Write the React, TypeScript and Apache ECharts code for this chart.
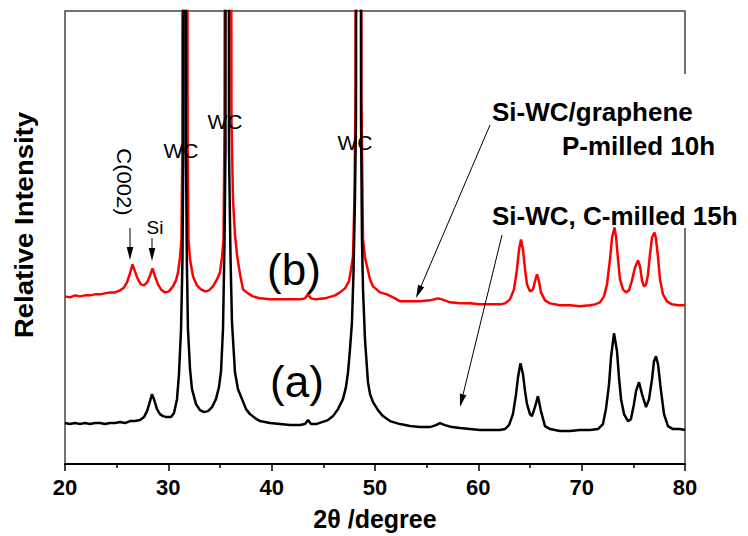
import React, { useEffect, useRef } from "react";
import * as echarts from "echarts";

// 2θ (degree) and relative intensity (a.u.)
const blackTheta = [20.0,20.48,20.97,21.45,21.94,22.42,22.9,23.39,23.87,24.35,24.84,25.32,25.81,26.29,26.77,27.26,27.65,27.94,28.23,28.42,28.61,28.9,29.19,29.48,29.87,30.26,30.55,30.84,31.03,31.23,31.37,31.45,31.56,31.71,31.79,31.9,32.1,32.29,32.68,33.06,33.45,33.84,34.23,34.61,34.9,35.1,35.29,35.44,35.53,35.68,35.87,36.02,36.16,36.45,36.74,37.13,37.52,37.9,38.39,38.87,39.84,40.81,41.77,42.74,43.23,43.52,43.81,44.29,44.87,45.45,45.94,46.42,46.9,47.19,47.39,47.58,47.77,47.92,48.06,48.16,48.4,48.65,48.74,48.84,49.03,49.32,49.52,49.81,50.29,50.77,51.45,52.42,53.39,54.35,55.32,55.9,56.29,56.77,57.45,58.23,59.19,60.16,61.13,62.1,62.58,62.97,63.35,63.65,63.84,64.08,64.32,64.52,64.71,65.0,65.19,65.48,65.77,66.06,66.45,66.94,67.9,68.87,69.84,70.81,71.58,72.06,72.35,72.65,72.84,73.13,73.42,73.61,73.81,74.1,74.48,74.77,75.06,75.26,75.55,75.84,76.23,76.52,76.81,77.0,77.19,77.39,77.68,77.97,78.35,78.84,79.52,80.0];
const blackIntensity = [41,40,41,40,41,40,41,41,40,41,41,42,41,43,43,44,47,53,63,70,65,55,50,48,47,47,51,65,90,135,205,315,3000,315,205,135,95,75,60,54,52,53,57,65,77,93,135,225,315,3000,315,205,142,92,75,65,55,50,46,43,41,40,39,39,40,44,40,40,42,44,48,55,65,77,92,115,142,192,265,345,3000,345,225,175,125,82,70,62,54,48,43,40,38,37,37,39,41,39,37,36,35,34,34,34,35,39,50,70,87,101,90,73,60,50,48,57,68,53,38,35,33,33,34,34,35,40,55,80,107,131,113,87,65,50,43,45,60,73,82,70,57,65,85,103,108,100,73,50,38,35,35,34];

const redTheta = [20.0,20.48,20.97,21.45,21.94,22.42,22.9,23.39,23.87,24.35,24.84,25.32,25.71,26.0,26.29,26.53,26.77,27.06,27.35,27.65,27.94,28.23,28.47,28.71,29.0,29.29,29.68,30.06,30.45,30.74,30.94,31.13,31.27,31.35,31.61,31.87,31.95,32.1,32.39,32.77,33.16,33.55,33.94,34.32,34.71,35.0,35.19,35.34,35.44,35.77,36.11,36.26,36.45,36.64,36.94,37.23,37.71,38.19,38.87,39.84,40.81,41.77,42.74,43.23,43.52,43.81,44.29,45.16,46.13,46.61,47.1,47.48,47.68,47.87,48.01,48.11,48.4,48.69,48.84,49.03,49.23,49.52,49.81,50.48,51.16,51.94,52.42,53.39,54.35,55.32,56.1,56.48,57.26,58.23,59.19,60.16,61.13,62.1,62.58,63.06,63.45,63.74,63.94,64.13,64.32,64.52,64.71,65.0,65.29,65.48,65.68,65.87,66.06,66.45,66.94,67.9,68.87,69.84,70.81,71.29,71.77,72.16,72.45,72.74,72.94,73.18,73.32,73.52,73.71,74.0,74.29,74.58,74.87,75.16,75.45,75.65,75.84,76.03,76.23,76.42,76.61,76.81,77.05,77.19,77.39,77.58,77.87,78.26,78.74,79.32,80.0];
const redIntensity = [168,167,169,168,169,169,170,170,171,172,172,174,177,182,191,200,193,185,180,179,182,189,196,188,180,175,172,173,178,184,192,207,225,315,3000,315,225,205,188,179,175,173,174,178,185,192,207,225,345,3000,345,265,230,210,190,175,171,168,166,165,165,165,165,166,170,166,165,166,169,172,176,183,195,208,265,365,3000,365,225,207,198,185,178,172,170,166,163,163,163,164,166,165,162,161,161,160,160,160,161,165,175,195,215,225,215,195,180,173,175,183,190,183,172,164,161,159,159,158,159,160,162,168,180,205,227,237,228,205,185,175,172,174,184,197,204,198,184,178,180,190,210,227,232,226,207,185,170,163,160,159,159];

const xTicks = [20, 30, 40, 50, 60, 70, 80];
const seriesNames = ["Si-WC/graphene P-milled 10h (b)", "Si-WC, C-milled 15h (a)"];

const FONT = "'Liberation Sans', Arial, Helvetica, sans-serif";

function pairs(xs: number[], ys: number[]) {
  return xs.map((x, i) => [x, ys[i]]);
}

function txt(text: string, x: number, y: number, size: number, opts: any = {}) {
  const align = opts.align || "center";
  return {
    type: "text",
    x,
    y,
    rotation: opts.rotation || 0,
    scaleX: opts.scaleX || 1,
    scaleY: opts.scaleY || 1,
    z: 120,
    style: {
      text,
      fontSize: size,
      fontWeight: opts.bold ? "bold" : "normal",
      fontFamily: FONT,
      fill: "#000",
      align,
      verticalAlign: "middle",
      textAlign: align,
      textVerticalAlign: "middle",
    },
  };
}

function arrow(x1: number, y1: number, x2: number, y2: number, head = 13, half = 3.3) {
  const dx = x2 - x1;
  const dy = y2 - y1;
  const len = Math.sqrt(dx * dx + dy * dy);
  const ux = dx / len;
  const uy = dy / len;
  const bx = x2 - head * ux;
  const by = y2 - head * uy;
  const nx = -uy;
  const ny = ux;
  return [
    { type: "line", z: 110, shape: { x1, y1, x2: bx, y2: by }, style: { stroke: "#000", lineWidth: 1 } },
    {
      type: "polygon",
      z: 110,
      shape: { points: [[x2, y2], [bx + half * nx, by + half * ny], [bx - half * nx, by - half * ny]] },
      style: { fill: "#000" },
    },
  ];
}

export default function App() {
  const ref = useRef<HTMLDivElement>(null);
  useEffect(() => {
    if (!ref.current) return;
    const chart = echarts.init(ref.current, undefined, { renderer: "svg" });
    chart.setOption({
      animation: false,
      backgroundColor: "#fff",
      grid: {
        left: 65,
        right: 63,
        top: 11,
        bottom: 71,
        show: true,
        borderColor: "#444",
        borderWidth: 1.5,
        backgroundColor: "transparent",
      },
      xAxis: {
        type: "value",
        min: 20,
        max: 80,
        interval: 10,
        name: "2θ /degree",
        nameLocation: "middle",
        nameGap: 42,
        nameTextStyle: { fontSize: 25, fontWeight: "bold", fontFamily: FONT, color: "#000" },
        axisLine: { show: true, lineStyle: { color: "#000", width: 2 } },
        axisTick: { show: true, length: 7, lineStyle: { color: "#000", width: 1.5 } },
        minorTick: { show: true, splitNumber: 2, length: 4, lineStyle: { color: "#000", width: 1.5 } },
        splitLine: { show: false },
        axisLabel: {
          fontSize: 22,
          fontWeight: "bold",
          fontFamily: FONT,
          color: "#000",
          margin: 12,
          formatter: (v: number) => (xTicks.indexOf(v) >= 0 ? String(v) : ""),
        },
      },
      yAxis: {
        type: "value",
        min: 0,
        max: 454,
        show: true,
        axisLine: { show: false },
        axisTick: { show: false },
        axisLabel: { show: false },
        splitLine: { show: false },
      },
      series: [
        {
          name: seriesNames[0],
          type: "line",
          data: pairs(redTheta, redIntensity),
          showSymbol: false,
          clip: true,
          lineStyle: { color: "#ff0000", width: 2.5 },
          itemStyle: { color: "#ff0000" },
          z: 2,
        },
        {
          name: seriesNames[1],
          type: "line",
          data: pairs(blackTheta, blackIntensity),
          showSymbol: false,
          clip: true,
          lineStyle: { color: "#000", width: 2.5 },
          itemStyle: { color: "#000" },
          z: 3,
        },
      ],
      graphic: [
        { type: "rect", z: 100, shape: { x: 680, y: 74, width: 12, height: 154 }, style: { fill: "#fff" } },
        txt("Relative Intensity", 24, 225, 25, { bold: true, rotation: Math.PI / 2, scaleX: 1.1 }),
        txt("(b)", 294, 269, 44),
        txt("(a)", 297, 381, 44),
        txt("WC", 181, 150, 21),
        txt("WC", 225, 121, 21),
        txt("WC", 355, 142, 21),
        txt("Si", 155, 227, 19),
        txt("C(002)", 124, 182, 21, { rotation: -Math.PI / 2, scaleX: 1.05 }),
        txt("Si-WC/graphene", 492, 112, 26, { bold: true, align: "left" }),
        txt("P-milled 10h", 562, 146, 26, { bold: true, align: "left" }),
        txt("Si-WC, C-milled 15h", 492, 216, 26, { bold: true, align: "left" }),
        ...arrow(130, 228, 130, 260),
        ...arrow(152, 238, 152, 261),
        ...arrow(490, 125, 416, 298),
        ...arrow(502, 235, 460, 407),
      ],
    });
    return () => chart.dispose();
  }, []);
  return <div ref={ref} style={{ position: "absolute", left: 0, top: 0, width: 748, height: 536 }} />;
}
